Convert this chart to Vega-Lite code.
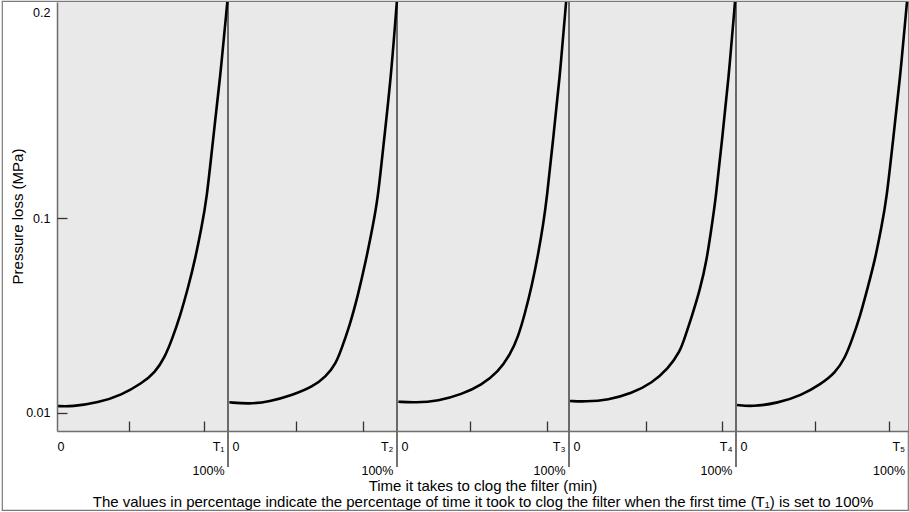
{
  "$schema": "https://vega.github.io/schema/vega-lite/v6.json",
  "width": 906,
  "height": 509,
  "autosize": {"type": "none"},
  "padding": {"left": 2, "top": 1, "right": 1, "bottom": 2},
  "background": "white",
  "config": {
    "font": "Liberation Sans",
    "view": {"stroke": "#7a7a7a", "strokeWidth": 1.2}
  },
  "datasets": {
    "curves": [
      {"panel": "T1", "x": 0.0, "p": 0.01307},
      {"panel": "T1", "x": 0.086, "p": 0.01274},
      {"panel": "T1", "x": 0.241, "p": 0.0146},
      {"panel": "T1", "x": 0.378, "p": 0.01816},
      {"panel": "T1", "x": 0.495, "p": 0.02357},
      {"panel": "T1", "x": 0.573, "p": 0.02848},
      {"panel": "T1", "x": 0.632, "p": 0.03588},
      {"panel": "T1", "x": 0.671, "p": 0.04361},
      {"panel": "T1", "x": 0.719, "p": 0.05439},
      {"panel": "T1", "x": 0.768, "p": 0.06827},
      {"panel": "T1", "x": 0.807, "p": 0.08062},
      {"panel": "T1", "x": 0.846, "p": 0.09603},
      {"panel": "T1", "x": 0.875, "p": 0.1084},
      {"panel": "T1", "x": 0.912, "p": 0.1362},
      {"panel": "T1", "x": 0.953, "p": 0.1639},
      {"panel": "T1", "x": 0.996, "p": 0.2},
      {"panel": "T2", "x": 1.008, "p": 0.01478},
      {"panel": "T2", "x": 1.126, "p": 0.01399},
      {"panel": "T2", "x": 1.244, "p": 0.01506},
      {"panel": "T2", "x": 1.383, "p": 0.01816},
      {"panel": "T2", "x": 1.501, "p": 0.022},
      {"panel": "T2", "x": 1.58, "p": 0.02663},
      {"panel": "T2", "x": 1.639, "p": 0.03283},
      {"panel": "T2", "x": 1.669, "p": 0.03898},
      {"panel": "T2", "x": 1.718, "p": 0.04976},
      {"panel": "T2", "x": 1.767, "p": 0.06364},
      {"panel": "T2", "x": 1.817, "p": 0.08062},
      {"panel": "T2", "x": 1.856, "p": 0.09603},
      {"panel": "T2", "x": 1.886, "p": 0.1084},
      {"panel": "T2", "x": 1.923, "p": 0.1362},
      {"panel": "T2", "x": 1.963, "p": 0.1639},
      {"panel": "T2", "x": 1.999, "p": 0.2},
      {"panel": "T3", "x": 2.008, "p": 0.01506},
      {"panel": "T3", "x": 2.105, "p": 0.0146},
      {"panel": "T3", "x": 2.24, "p": 0.01538},
      {"panel": "T3", "x": 2.376, "p": 0.01848},
      {"panel": "T3", "x": 2.492, "p": 0.02278},
      {"panel": "T3", "x": 2.589, "p": 0.02894},
      {"panel": "T3", "x": 2.657, "p": 0.03667},
      {"panel": "T3", "x": 2.705, "p": 0.04513},
      {"panel": "T3", "x": 2.744, "p": 0.05596},
      {"panel": "T3", "x": 2.783, "p": 0.06827},
      {"panel": "T3", "x": 2.822, "p": 0.08373},
      {"panel": "T3", "x": 2.851, "p": 0.09761},
      {"panel": "T3", "x": 2.87, "p": 0.1084},
      {"panel": "T3", "x": 2.907, "p": 0.1362},
      {"panel": "T3", "x": 2.945, "p": 0.1639},
      {"panel": "T3", "x": 2.983, "p": 0.2},
      {"panel": "T4", "x": 3.006, "p": 0.01538},
      {"panel": "T4", "x": 3.096, "p": 0.01506},
      {"panel": "T4", "x": 3.235, "p": 0.01584},
      {"panel": "T4", "x": 3.375, "p": 0.01894},
      {"panel": "T4", "x": 3.495, "p": 0.02357},
      {"panel": "T4", "x": 3.595, "p": 0.03051},
      {"panel": "T4", "x": 3.665, "p": 0.03819},
      {"panel": "T4", "x": 3.695, "p": 0.04513},
      {"panel": "T4", "x": 3.735, "p": 0.05439},
      {"panel": "T4", "x": 3.784, "p": 0.06674},
      {"panel": "T4", "x": 3.825, "p": 0.08062},
      {"panel": "T4", "x": 3.854, "p": 0.09603},
      {"panel": "T4", "x": 3.878, "p": 0.1084},
      {"panel": "T4", "x": 3.916, "p": 0.1362},
      {"panel": "T4", "x": 3.955, "p": 0.1639},
      {"panel": "T4", "x": 3.994, "p": 0.2},
      {"panel": "T5", "x": 4.006, "p": 0.01353},
      {"panel": "T5", "x": 4.093, "p": 0.01274},
      {"panel": "T5", "x": 4.244, "p": 0.01446},
      {"panel": "T5", "x": 4.378, "p": 0.01793},
      {"panel": "T5", "x": 4.494, "p": 0.02325},
      {"panel": "T5", "x": 4.576, "p": 0.02834},
      {"panel": "T5", "x": 4.634, "p": 0.03528},
      {"panel": "T5", "x": 4.674, "p": 0.04361},
      {"panel": "T5", "x": 4.721, "p": 0.05439},
      {"panel": "T5", "x": 4.767, "p": 0.06827},
      {"panel": "T5", "x": 4.808, "p": 0.08062},
      {"panel": "T5", "x": 4.846, "p": 0.09603},
      {"panel": "T5", "x": 4.875, "p": 0.1084},
      {"panel": "T5", "x": 4.913, "p": 0.1362},
      {"panel": "T5", "x": 4.953, "p": 0.1639},
      {"panel": "T5", "x": 4.994, "p": 0.2}
    ],
    "dividers": [{"x": 1}, {"x": 2}, {"x": 3}, {"x": 4}]
  },
  "layer": [
    {
      "data": {"values": [{}]},
      "mark": {"type": "rect", "fill": "#e8e9e8"},
      "encoding": {
        "x": {
          "datum": 0, "type": "quantitative",
          "scale": {"domain": [0, 1, 2, 3, 4, 5], "range": [55, 226, 395, 567, 734, 906], "nice": false, "zero": false},
          "axis": {
            "orient": "bottom", "offset": -79, "zindex": 1,
            "values": [0, 0.977, 1.024, 1.976, 2.023, 2.977, 3.024, 3.976, 4.023, 4.98],
            "labelExpr": "datum.value % 1 > 0.5 ? 'T' + (datum.value < 1 ? '₁' : datum.value < 2 ? '₂' : datum.value < 3 ? '₃' : datum.value < 4 ? '₄' : '₅') : '0'",
            "labelAlign": {"condition": {"test": "datum.value % 1 > 0.5", "value": "right"}, "value": "left"},
            "ticks": false, "grid": false, "labelPadding": 9, "labelFontSize": 12.5, "labelColor": "black",
            "labelFlush": false, "labelOverlap": false, "labelBound": false,
            "domainColor": "#6e6e6e", "domainWidth": 1.5,
            "title": "Time it takes to clog the filter (min)",
            "titleFontSize": 15, "titleFontWeight": "normal", "titleColor": "black",
            "titleY": 47, "titleBaseline": "top"
          }
        },
        "x2": {"datum": 5},
        "y": {
          "datum": 0.0015, "type": "quantitative",
          "scale": {"domain": [0.0015, 0.2], "range": [430, 1], "nice": false, "zero": false},
          "axis": {
            "orient": "left", "offset": -55, "zindex": 1,
            "values": [0.01, 0.1, 0.2], "format": "~g",
            "ticks": false, "grid": false, "labelPadding": 7, "labelFontSize": 12.5, "labelColor": "black",
            "labelBaseline": "middle",
            "labelOffset": {"condition": {"test": "datum.value > 0.15", "value": 10}, "value": 0},
            "labelFlush": false, "labelOverlap": false, "labelBound": false,
            "domainColor": "#6e6e6e", "domainWidth": 1.5,
            "title": "Pressure loss (MPa)", "titleFontSize": 15, "titleFontWeight": "normal", "titleColor": "black",
            "titleX": -40, "titleY": 215, "titleAngle": -90, "titleBaseline": "middle", "titleAlign": "center"
          }
        },
        "y2": {"datum": 0.2}
      }
    },
    {
      "data": {"name": "dividers"},
      "mark": {"type": "rule", "color": "black", "strokeWidth": 1.1},
      "encoding": {
        "x": {
          "field": "x", "type": "quantitative",
          "scale": {"domain": [0, 1, 2, 3, 4, 5], "range": [55, 226, 395, 567, 734, 906], "nice": false, "zero": false},
          "axis": {
            "orient": "bottom", "offset": -89, "zindex": 1,
            "values": [0.421, 0.86, 1.402, 1.799, 2.424, 2.872, 3.461, 3.916, 4.459, 4.89],
            "labels": false, "domain": false, "grid": false, "ticks": true,
            "tickSize": 10, "tickColor": "#333333", "tickWidth": 1.3, "title": null
          }
        },
        "y": {
          "datum": 0.2, "type": "quantitative",
          "scale": {"domain": [0.0015, 0.2], "range": [430, 1], "nice": false, "zero": false},
          "axis": null
        },
        "y2": {"datum": -0.0152}
      }
    },
    {
      "data": {"name": "curves"},
      "mark": {"type": "line", "color": "black", "strokeWidth": 2.6, "interpolate": "basis"},
      "encoding": {
        "x": {
          "field": "x", "type": "quantitative",
          "scale": {"domain": [0, 1, 2, 3, 4, 5], "range": [55, 226, 395, 567, 734, 906], "nice": false, "zero": false},
          "axis": {
            "orient": "bottom", "offset": -79, "zindex": 1,
            "values": [0.977, 1.976, 2.977, 3.976, 4.98],
            "labelExpr": "'100%'", "labelAlign": "right",
            "ticks": false, "domain": false, "grid": false,
            "labelPadding": 33, "labelFontSize": 12.5, "labelColor": "black",
            "labelFlush": false, "labelOverlap": false, "labelBound": false,
            "title": "The values in percentage indicate the percentage of time it took to clog the filter when the first time (T₁) is set to 100%",
            "titleFontSize": 15, "titleFontWeight": "normal", "titleColor": "black",
            "titleY": 63, "titleBaseline": "top"
          }
        },
        "y": {
          "field": "p", "type": "quantitative",
          "scale": {"domain": [0.0015, 0.2], "range": [430, 1], "nice": false, "zero": false},
          "axis": {
            "orient": "left", "offset": -65, "zindex": 1,
            "values": [0.01, 0.1],
            "labels": false, "domain": false, "grid": false,
            "tickSize": 10, "tickColor": "#333333", "tickWidth": 1.3, "title": null
          }
        },
        "detail": {"field": "panel"}
      }
    }
  ],
  "resolve": {"axis": {"x": "independent", "y": "independent"}}
}
